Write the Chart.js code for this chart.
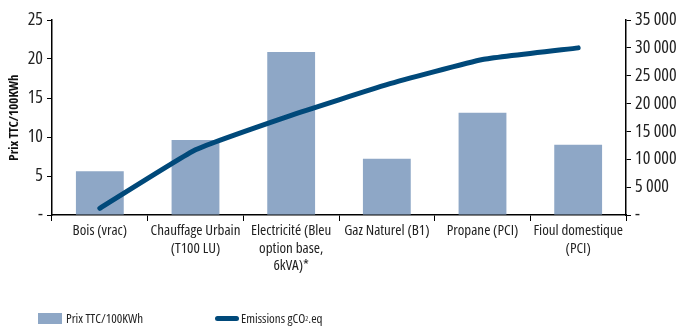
<!DOCTYPE html>
<html>
<head>
<meta charset="utf-8">
<script src="https://cdn.jsdelivr.net/npm/chart.js@4/dist/chart.umd.min.js"></script>
<style>
  body { margin: 0; background: #fff; }
  #wrap { position: relative; width: 681px; height: 328px; }
  .legend { position: absolute; top: 309px; font-family: "Open Sans", sans-serif; font-stretch: condensed; font-size: 13px; color: #222; display: flex; align-items: center; }
  .sw-bar { width: 24px; height: 11px; background: #8ea7c6; margin-right: 4px; }
  .sw-line { width: 24px; height: 5px; border-radius: 3px; background: #00497a; margin-right: 2px; }
</style>
</head>
<body>
<div id="wrap">
  <canvas id="c" width="681" height="328"></canvas>
  <div class="legend" style="left:38px"><div class="sw-bar"></div>Prix TTC/100KWh</div>
  <div class="legend" style="left:215px"><div class="sw-line"></div>Emissions gCO<sub style="font-size:7px">2</sub>.eq</div>
</div>
<script>
// données
var categories = [
  ['Bois (vrac)'],
  ['Chauffage Urbain', '(T100 LU)'],
  ['Electricité (Bleu', 'option base,', '6kVA)*'],
  ['Gaz Naturel (B1)'],
  ['Propane (PCI)'],
  ['Fioul domestique', '(PCI)']
];
var prix = [5.6, 9.6, 20.9, 7.2, 13.1, 9.0];
var emissions = [1200, 11700, 17900, 23400, 27900, 30000];
var leftTicks = [0, 5, 10, 15, 20, 25];
var rightTicks = [0, 5000, 10000, 15000, 20000, 25000, 30000, 35000];

var fontFam = '"Open Sans", sans-serif';

function fmt(v) {
  if (v === 0) return '-';
  return String(v).replace(/\B(?=(\d{3})+(?!\d))/g, ' ');
}

// chart.js refuse "condensed" comme style, on le passe par weight
new Chart(document.getElementById('c'), {
  data: {
    labels: categories,
    datasets: [{
      type: 'line',
      label: 'Emissions gCO2.eq',
      data: emissions,
      yAxisID: 'y1',
      borderColor: '#00497a',
      borderWidth: 5,
      borderCapStyle: 'round',
      tension: 0.12,
      pointRadius: 0,
      order: 0
    }, {
      type: 'bar',
      label: 'Prix TTC/100KWh',
      data: prix,
      yAxisID: 'y',
      backgroundColor: '#8ea7c6',
      barPercentage: 0.5,
      categoryPercentage: 1,
      order: 1
    }]
  },
  options: {
    responsive: false,
    animation: false,
    layout: { padding: { top: 20, bottom: 0 } },
    plugins: { legend: { display: false }, tooltip: { enabled: false } },
    scales: {
      x: {
        offset: true,
        grid: { offset: true, drawOnChartArea: false, color: '#000', tickLength: 6 },
        border: { color: '#000', width: 1.5 },
        ticks: { color: '#222', font: { family: fontFam, weight: 'condensed', size: 15, lineHeight: 1.17 }, maxRotation: 0, autoSkip: false, padding: 1 },
        afterFit: function(s) { s.height = 113; }
      },
      y: {
        position: 'left',
        min: 0, max: 25,
        afterBuildTicks: function(s) { s.ticks = leftTicks.map(function(v) { return { value: v }; }); },
        grid: { drawOnChartArea: false, color: '#000', tickLength: 5 },
        border: { color: '#000', width: 1.5 },
        ticks: { color: '#222', font: { family: fontFam, weight: 'condensed', size: 18 }, padding: 4, callback: fmt },
        title: { display: true, text: 'Prix TTC/100KWh', color: '#111', font: { family: fontFam, weight: 'bold condensed', size: 13 }, padding: { top: 6, bottom: 0 } },
        afterFit: function(s) { s.width = 52; }
      },
      y1: {
        position: 'right',
        min: 0, max: 35000,
        afterBuildTicks: function(s) { s.ticks = rightTicks.map(function(v) { return { value: v }; }); },
        grid: { drawOnChartArea: false, color: '#000', tickLength: 5 },
        border: { color: '#000', width: 1.5 },
        ticks: { color: '#222', font: { family: fontFam, weight: 'condensed', size: 18 }, padding: 4, callback: fmt },
        afterFit: function(s) { s.width = 55; }
      }
    }
  }
});
</script>
</body>
</html>
